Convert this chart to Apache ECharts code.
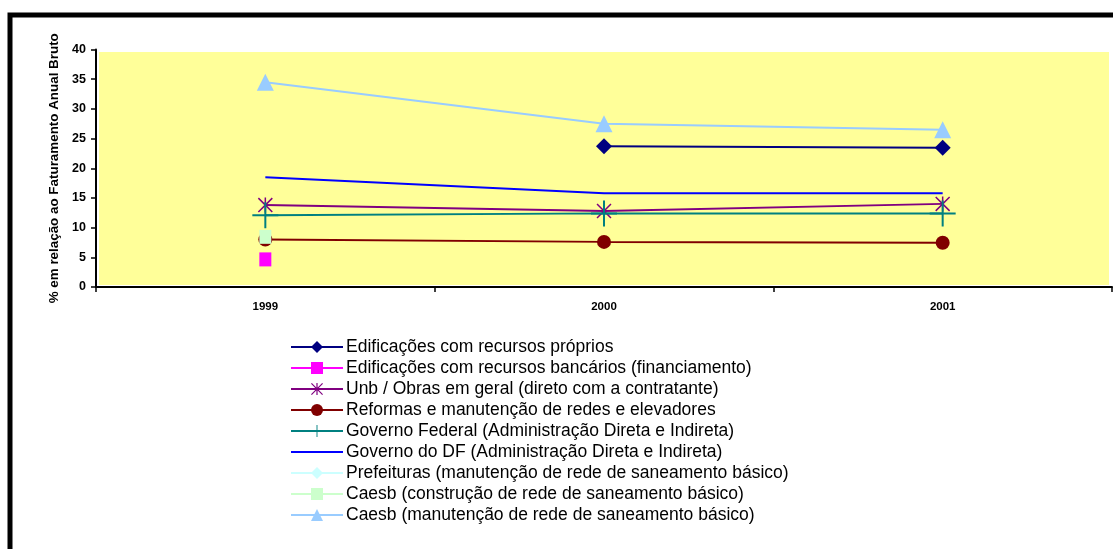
<!DOCTYPE html>
<html>
<head>
<meta charset="utf-8">
<script src="https://cdn.jsdelivr.net/npm/echarts@6/dist/echarts.min.js"></script>
<style>
html,body{margin:0;padding:0;background:#fff;}
#c{width:1113px;height:549px;}
</style>
</head>
<body>
<div id="c"></div>
<script>
var categories = ['1999', '2000', '2001'];
var yTicks = [0, 5, 10, 15, 20, 25, 30, 35, 40];
var edifProprios = [null, 23.7, 23.45];
var edifBancarios = [4.65, null, null];
var unbObras = [13.8, 12.8, 14.0];
var reformas = [8.0, 7.6, 7.45];
var govFederal = [12.1, 12.4, 12.4];
var govDF = [18.5, 15.8, 15.8];
var prefeituras = [null, null, null];
var caesbConstrucao = [8.45, null, null];
var caesbManutencao = [34.5, 27.5, 26.5];
var seriesNames = [
  'Edificações com recursos próprios',
  'Edificações com recursos bancários (financiamento)',
  'Unb / Obras em geral (direto com a contratante)',
  'Reformas e manutenção de redes e elevadores',
  'Governo Federal (Administração Direta e Indireta)',
  'Governo do DF (Administração Direta e Indireta)',
  'Prefeituras (manutenção de rede de saneamento básico)',
  'Caesb (construção de rede de saneamento básico)',
  'Caesb (manutenção de rede de saneamento básico)'
];

var plusPath = 'path://M0,12H26V14H0Z M12,0H14V26H12Z';
var starPath = 'path://M0,1L1,0L14,13L13,14Z M13,0L14,1L1,14L0,13Z M6.3,0H7.7V14H6.3Z';
var linePath = 'path://M0,0H100V4H0Z';

var styles = [
  {color:'#000080', symbol:'diamond', size:16},
  {color:'#FF00FF', symbol:'rect', size:[12,14]},
  {color:'#800080', symbol:starPath, size:15},
  {color:'#800000', symbol:'circle', size:14},
  {color:'#008080', symbol:plusPath, size:26},
  {color:'#0000FF', symbol:'none', size:0},
  {color:'#CCFFFF', symbol:'diamond', size:16},
  {color:'#CCFFCC', symbol:'rect', size:[12,14]},
  {color:'#99CCFF', symbol:'triangle', size:17}
];
var datas = [edifProprios, edifBancarios, unbObras, reformas, govFederal, govDF, prefeituras, caesbConstrucao, caesbManutencao];

var series = datas.map(function(d, i){
  var s = styles[i];
  return {
    name: seriesNames[i],
    type: 'line',
    data: d,
    z: 3,
    symbol: s.symbol,
    symbolSize: s.size,
    showSymbol: s.symbol !== 'none',
    connectNulls: false,
    lineStyle: {color: s.color, width: 2},
    itemStyle: {color: s.color},
    emphasis: {disabled: true},
    animation: false
  };
});

var legendData = seriesNames.map(function(n, i){
  if (styles[i].symbol === 'none') return {name: n, icon: linePath};
  return {name: n};
});

var FONT = 'Liberation Sans, Arial, sans-serif';
var chart = echarts.init(document.getElementById('c'), null, {renderer:'canvas'});
chart.setOption({
  animation: false,
  backgroundColor: '#ffffff',
  grid: {left: 96, top: 49.5, right: 1, bottom: 262, show: false, containLabel: false},
  xAxis: {
    type: 'category',
    data: categories,
    boundaryGap: true,
    z: 4,
    axisLine: {lineStyle: {color: '#000', width: 2}},
    axisTick: {show: true, length: 5, lineStyle: {color: '#000', width: 1.5}},
    axisLabel: {color: '#000', fontSize: 11.5, fontWeight: 'bold', fontFamily: FONT, margin: 14},
    splitLine: {show: false}
  },
  yAxis: {
    type: 'value',
    min: 0, max: 40, interval: 5,
    z: 4,
    name: '% em relação ao Faturamento Anual Bruto',
    nameLocation: 'middle',
    nameGap: 31,
    nameTextStyle: {color: '#000', fontSize: 13.4, fontWeight: 'bold', fontFamily: FONT},
    axisLine: {show: true, lineStyle: {color: '#000', width: 2}},
    axisTick: {show: true, length: 5, lineStyle: {color: '#000', width: 1.5}},
    axisLabel: {color: '#000', fontSize: 12.5, fontWeight: 'bold', fontFamily: FONT, margin: 10,
      formatter: function(v){ return yTicks.indexOf(v) >= 0 ? String(v) : ''; }},
    splitLine: {show: false}
  },
  legend: {
    orient: 'vertical',
    left: 285,
    top: 333,
    itemWidth: 52,
    itemHeight: 15,
    itemGap: 3,
    selectedMode: false,
    textStyle: {color: '#000', fontSize: 17.5, lineHeight: 18, fontFamily: FONT, padding: [0,0,0,-2]},
    data: legendData
  },
  graphic: [{
    type: 'rect',
    shape: {x: 99, y: 52, width: 1010, height: 233},
    style: {fill: '#FFFF99'},
    z: -10,
    silent: true
  }, {
    type: 'rect',
    shape: {x: 10, y: 15, width: 1120, height: 560},
    style: {fill: 'none', stroke: '#000', lineWidth: 5},
    z: 100,
    silent: true
  }],
  series: series
});
</script>
</body>
</html>
